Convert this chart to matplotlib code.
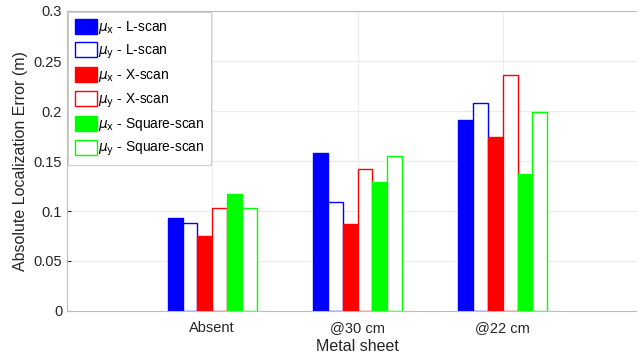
import numpy as np
import matplotlib
matplotlib.use("Agg")
from matplotlib import pyplot as plt

plt.rcParams["font.family"] = ["Liberation Sans", "DejaVu Sans"]

categories = ["Absent", "@30 cm", "@22 cm"]
series_labels = [
    r"$\mu_{\mathrm{x}}$ - L-scan",
    r"$\mu_{\mathrm{y}}$ - L-scan",
    r"$\mu_{\mathrm{x}}$ - X-scan",
    r"$\mu_{\mathrm{y}}$ - X-scan",
    r"$\mu_{\mathrm{x}}$ - Square-scan",
    r"$\mu_{\mathrm{y}}$ - Square-scan",
]
mux_lscan = [0.093, 0.158, 0.191]
muy_lscan = [0.088, 0.109, 0.208]
mux_xscan = [0.075, 0.087, 0.174]
muy_xscan = [0.103, 0.142, 0.236]
mux_square = [0.117, 0.129, 0.137]
muy_square = [0.103, 0.155, 0.199]

series = [mux_lscan, muy_lscan, mux_xscan, muy_xscan, mux_square, muy_square]
colors = ["#0000ff", "#0000ff", "#ff0000", "#ff0000", "#00ff00", "#00ff00"]
filled = [True, False, True, False, True, False]

fig = plt.figure(figsize=(6.37, 3.58), dpi=100)
ax = fig.add_axes([67 / 637, 1 - 311 / 358, (648 - 67) / 637, 300 / 358])

x = np.arange(1, len(categories) + 1)
width = 0.102
for i, (vals, col, fill, lab) in enumerate(zip(series, colors, filled, series_labels)):
    offset = (i - 2.5) * width
    ax.bar(x + offset, vals, width,
           color=col if fill else "white",
           edgecolor=col, linewidth=1.0, label=lab, zorder=3)

ax.set_xlim(0, 4)
ax.set_ylim(0, 0.3)
ax.set_xticks(x)
ax.set_xticklabels(categories)
ax.set_yticks(np.arange(0, 0.31, 0.05))
ax.set_yticklabels(["0", "0.05", "0.1", "0.15", "0.2", "0.25", "0.3"])
ax.grid(True, color="#ebebeb", linewidth=0.8, zorder=0)
ax.tick_params(direction="in", length=3, labelsize=10.5, colors="#262626",
               labelcolor="#262626")
ax.tick_params(axis="x", pad=7)
for sp in ax.spines.values():
    sp.set_color("#bdbdbd")
    sp.set_linewidth(0.8)

ax.set_ylabel("Absolute Localization Error (m)", fontsize=11.5, color="#262626")
ax.set_xlabel("Metal sheet", fontsize=11.5, color="#262626", labelpad=3)

leg = ax.legend(loc="upper left", fontsize=9.9, handlelength=1.6, handleheight=1.3,
                handletextpad=0.1, labelspacing=0.48, borderpad=0.45,
                borderaxespad=0.1, fancybox=False, framealpha=1)
leg.get_frame().set_edgecolor("#cfcfcf")
leg.get_frame().set_linewidth(0.8)

fig.savefig("out.png", dpi=100)
